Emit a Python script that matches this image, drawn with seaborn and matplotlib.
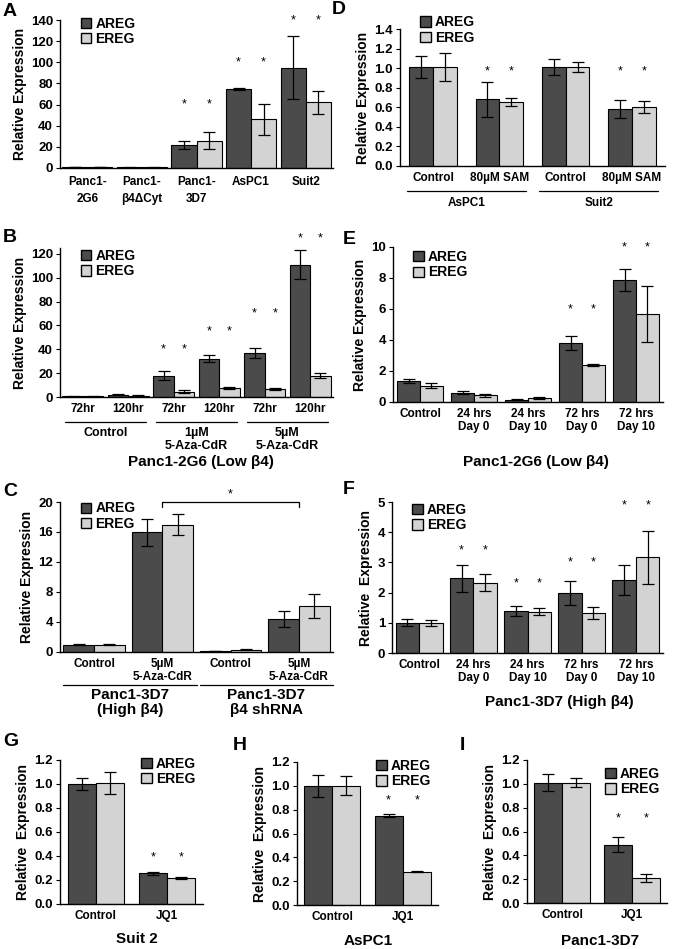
import numpy as np
import pandas as pd
import matplotlib
matplotlib.use("Agg")
import matplotlib.pyplot as plt
from matplotlib.patches import Patch
import seaborn as sns

sns.set_style("white")
plt.rcParams['font.family'] = ['Liberation Sans', 'DejaVu Sans']
plt.rcParams['font.weight'] = 'bold'
plt.rcParams['axes.labelweight'] = 'bold'
plt.rcParams['text.color'] = 'black'
plt.rcParams['axes.labelcolor'] = 'black'
plt.rcParams['xtick.color'] = 'black'
plt.rcParams['ytick.color'] = 'black'

W, H = 675, 949
DARK = "#4b4b4b"
LIGHT = "#d3d3d3"
NA = np.nan

# -------------------
# DATA
# -------------------
a_cats = ["Panc1-\n2G6", "Panc1-\nβ4ΔCyt", "Panc1-\n3D7", "AsPC1", "Suit2"]
a_areg = [1.0, 0.6, 22, 75, 95]
a_areg_err = [0.3, 0.2, 4, 1, 30]
a_ereg = [1.0, 0.6, 26, 46, 62]
a_ereg_err = [0.3, 0.2, 8, 15, 11]
a_star = [NA, NA, 60, 100, 140]

b_cats = ["72hr", "120hr", "72hr", "120hr", "72hr", "120hr"]
b_groups = ["Control", "1µM\n5-Aza-CdR", "5µM\n5-Aza-CdR"]
b_areg = [0.5, 2.0, 18, 32, 37, 111]
b_areg_err = [0.3, 0.5, 4, 3, 4, 12]
b_ereg = [0.5, 1.0, 4.5, 7.5, 6.5, 18]
b_ereg_err = [0.2, 0.3, 1, 0.5, 1, 2]
b_star = [NA, NA, 40, 55, 70, 133]

c_cats = ["Control", "5µM\n5-Aza-CdR", "Control", "5µM\n5-Aza-CdR"]
c_groups = ["Panc1-3D7\n(High β4)", "Panc1-3D7\nβ4 shRNA"]
c_areg = [1.0, 16.0, 0.15, 4.4]
c_areg_err = [0.1, 1.8, 0.05, 1.1]
c_ereg = [1.0, 17.0, 0.3, 6.1]
c_ereg_err = [0.1, 1.4, 0.05, 1.6]

d_cats = ["Control", "80µM SAM", "Control", "80µM SAM"]
d_groups = ["AsPC1", "Suit2"]
d_areg = [1.01, 0.68, 1.01, 0.58]
d_areg_err = [0.11, 0.18, 0.08, 0.09]
d_ereg = [1.01, 0.65, 1.01, 0.60]
d_ereg_err = [0.14, 0.04, 0.05, 0.06]
d_star = [NA, 0.97, NA, 0.97]

ef_cats = ["Control", "24 hrs\nDay 0", "24 hrs\nDay 10", "72 hrs\nDay 0", "72 hrs\nDay 10"]
e_areg = [1.35, 0.6, 0.15, 3.8, 7.85]
e_areg_err = [0.15, 0.08, 0.03, 0.45, 0.7]
e_ereg = [1.05, 0.42, 0.27, 2.4, 5.7]
e_ereg_err = [0.15, 0.12, 0.05, 0.06, 1.8]
e_star = [NA, NA, NA, 6.0, 10.0]

f_areg = [1.0, 2.47, 1.4, 1.98, 2.43]
f_areg_err = [0.12, 0.45, 0.17, 0.4, 0.5]
f_ereg = [1.0, 2.32, 1.37, 1.33, 3.17]
f_ereg_err = [0.1, 0.28, 0.12, 0.2, 0.87]
f_star = [NA, 3.4, 2.3, 3.0, 4.9]

jq_cats = ["Control", "JQ1"]
g_areg = [1.0, 0.255]
g_areg_err = [0.05, 0.01]
g_ereg = [1.01, 0.215]
g_ereg_err = [0.09, 0.01]
g_star = [NA, 0.39]

h_areg = [1.0, 0.75]
h_areg_err = [0.09, 0.01]
h_ereg = [1.0, 0.28]
h_ereg_err = [0.08, 0.005]
h_star = [NA, 0.88]

i_areg = [1.01, 0.49]
i_areg_err = [0.07, 0.065]
i_ereg = [1.01, 0.21]
i_ereg_err = [0.04, 0.03]
i_star = [NA, 0.71]

fig = plt.figure(figsize=(W / 100, H / 100), dpi=100)


def fx(px):
    return px / W


def fy(py):
    return 1 - py / H


def panel(rect, cats, areg, areg_err, ereg, ereg_err, ylim, yticks, width,
          fmt="{:.0f}", stars=None, legend_right=False, leg_y=1.07,
          ylabel="Relative Expression", linespacing=1.15, xpad=4):
    left, top, right, bottom = rect
    ax = fig.add_axes([fx(left), fy(bottom), (right - left) / W, (bottom - top) / H])
    n = len(cats)
    df = pd.DataFrame({"group": list(range(n)) * 2,
                       "gene": ["AREG"] * n + ["EREG"] * n,
                       "value": list(areg) + list(ereg)})
    sns.barplot(data=df, x="group", y="value", hue="gene", palette=[DARK, LIGHT],
                width=width, edgecolor="black", linewidth=0.8, errorbar=None,
                legend=False, ax=ax)
    for cont, err in zip(ax.containers, [areg_err, ereg_err]):
        xs = [p.get_x() + p.get_width() / 2 for p in cont]
        hs = [p.get_height() for p in cont]
        ax.errorbar(xs, hs, yerr=err, fmt="none", ecolor="black",
                    elinewidth=0.9, capsize=4, capthick=0.9)
        if stars is not None:
            for x, s in zip(xs, stars):
                if not np.isnan(s):
                    ax.text(x, s, "*", ha="center", va="center", fontsize=9,
                            fontweight="normal", clip_on=False)
    ax.set_ylim(0, ylim)
    ax.set_xlim(-0.5, n - 0.5)
    ax.set_yticks(yticks)
    ax.set_yticklabels([fmt.format(t) for t in yticks])
    ax.set_xticks(range(n))
    ax.set_xticklabels(cats, linespacing=linespacing)
    ax.set_xlabel("")
    ax.set_ylabel(ylabel, fontsize=10, fontweight="bold", labelpad=3)
    for side in ["top", "right"]:
        ax.spines[side].set_visible(False)
    for side in ["left", "bottom"]:
        ax.spines[side].set_color("black")
        ax.spines[side].set_linewidth(1.0)
    ax.tick_params(axis="y", left=True, length=3, width=0.8, labelsize=9.5, pad=2)
    ax.tick_params(axis="x", bottom=False, length=0, labelsize=8.5, pad=xpad)
    handles = [Patch(facecolor=DARK, edgecolor="black", label="AREG"),
               Patch(facecolor=LIGHT, edgecolor="black", label="EREG")]
    leg_kw = dict(frameon=False, prop={"weight": "bold", "size": 10},
                  handlelength=0.75, handleheight=0.75, handletextpad=0.3,
                  labelspacing=0.1, borderpad=0)
    if legend_right:
        ax.legend(handles=handles, loc="upper right", bbox_to_anchor=(1.0, leg_y), **leg_kw)
    else:
        ax.legend(handles=handles, loc="upper left", bbox_to_anchor=(0.05, leg_y), **leg_kw)
    return ax


def group_line(ax, x0, x1, y, label, ly, size=9):
    tr = ax.get_xaxis_transform()
    ax.plot([x0, x1], [y, y], transform=tr, color="black", lw=0.9, clip_on=False)
    ax.text((x0 + x1) / 2, ly, label, transform=tr, ha="center", va="top",
            fontsize=size, fontweight="bold", linespacing=1.1)


def caption(xc, ytop, text, size=11):
    fig.text(fx(xc), fy(ytop), text, ha="center", va="top", fontsize=size,
             fontweight="bold")


# A
ax_a = panel((60, 20, 333, 168), a_cats, a_areg, a_areg_err, a_ereg, a_ereg_err,
             140, range(0, 141, 20), 0.92, stars=a_star, linespacing=1.55, xpad=6)

# B
ax_b = panel((60, 248, 333, 397), b_cats, b_areg, b_areg_err, b_ereg, b_ereg_err,
             125, range(0, 121, 20), 0.9, stars=b_star, leg_y=1.04)
for k, g in enumerate(b_groups):
    group_line(ax_b, 2 * k - 0.4, 2 * k + 1 + 0.4, -0.168, g, -0.2, size=9)
caption(201, 455, "Panc1-2G6 (Low β4)")

# C
ax_c = panel((60, 502, 333, 652), c_cats, c_areg, c_areg_err, c_ereg, c_ereg_err,
             20, range(0, 21, 4), 0.9, leg_y=1.05)
for k, g in enumerate(c_groups):
    group_line(ax_c, 2 * k - 0.45, 2 * k + 1 + 0.5, -0.22, g, -0.24, size=11)
ax_c.plot([1, 1, 3, 3], [19.3, 20, 20, 19.3], color="black", lw=0.9, clip_on=False)
ax_c.text(2, 21.0, "*", ha="center", va="center", fontsize=9, fontweight="normal")

# D
ax_d = panel((400, 29, 665, 166), d_cats, d_areg, d_areg_err, d_ereg, d_ereg_err,
             1.4, np.arange(0, 1.41, 0.2), 0.72, fmt="{:.1f}", stars=d_star,
             leg_y=1.15)
for k, g in enumerate(d_groups):
    group_line(ax_d, 2 * k - 0.4, 2 * k + 1 + 0.4, -0.18, g, -0.225, size=8.5)

# E
ax_e = panel((393, 247, 663, 402), ef_cats, e_areg, e_areg_err, e_ereg, e_ereg_err,
             10, range(0, 11, 2), 0.85, stars=e_star, leg_y=1.025)
caption(536, 455, "Panc1-2G6 (Low β4)")

# F
ax_f = panel((392, 502, 663, 653), ef_cats, f_areg, f_areg_err, f_ereg, f_ereg_err,
             5, range(0, 6), 0.87, stars=f_star, leg_y=1.04,
             ylabel="Relative  Expression")
caption(559, 695, "Panc1-3D7 (High β4)")

# G, H, I
ax_g = panel((60, 760, 203, 904), jq_cats, g_areg, g_areg_err, g_ereg, g_ereg_err,
             1.2, np.arange(0, 1.21, 0.2), 0.78, fmt="{:.1f}", stars=g_star,
             legend_right=True, ylabel="Relative  Expression")
caption(137, 932, "Suit 2")
ax_h = panel((297, 762, 438, 905), jq_cats, h_areg, h_areg_err, h_ereg, h_ereg_err,
             1.2, np.arange(0, 1.21, 0.2), 0.8, fmt="{:.1f}", stars=h_star,
             legend_right=True, ylabel="Relative  Expression")
caption(368, 934, "AsPC1")
ax_i = panel((527, 760, 667, 903), jq_cats, i_areg, i_areg_err, i_ereg, i_ereg_err,
             1.2, np.arange(0, 1.21, 0.2), 0.8, fmt="{:.1f}", stars=i_star,
             legend_right=True, leg_y=1.0, ylabel="Relative  Expression")
caption(600, 934, "Panc1-3D7")

# panel letters
for letter, x, y in [("A", 3, 12), ("D", 332, 10), ("B", 3, 237), ("E", 343, 239),
                     ("C", 3, 491), ("F", 343, 489), ("G", 3, 742), ("H", 233, 745),
                     ("I", 460, 746)]:
    fig.text(fx(x), fy(y), letter, ha="left", va="center", fontsize=14,
             fontweight="bold")

fig.savefig("out.png", dpi=100, facecolor="white")
